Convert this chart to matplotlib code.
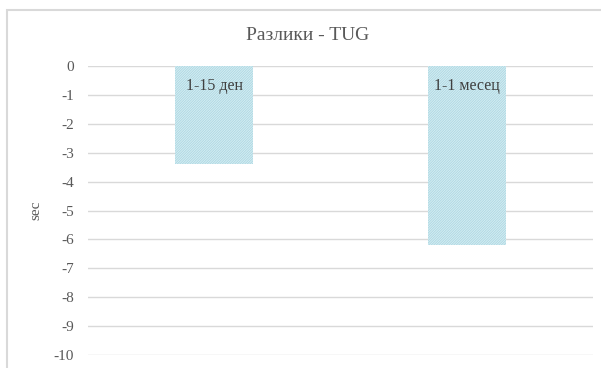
import matplotlib
matplotlib.use('Agg')
import matplotlib.pyplot as plt
from matplotlib.patches import Rectangle

plt.rcParams['font.family'] = ['Liberation Serif', 'DejaVu Serif']
plt.rcParams['hatch.linewidth'] = 0.45

categories = ['1-15 ден', '1-1 месец']
values = [-3.4, -6.2]
yticks = list(range(0, -11, -1))

W, H = 601, 368
fig = plt.figure(figsize=(W / 100, H / 100), dpi=100)
ax = fig.add_axes([88 / W, 1 - 355 / H, (593 - 88) / W, (355 - 66) / H])

x = list(range(len(categories)))
ax.bar(x, values, width=0.31, color='#8BC8D8', edgecolor='#F2FAFB',
       hatch='/' * 20, linewidth=0, zorder=2)
for xi, lab in zip(x, categories):
    ax.text(xi, -0.7, lab, ha='center', va='center', fontsize=11.5,
            color='#404040', zorder=3)

ax.set_xlim(-0.5, len(categories) - 0.5)
ax.set_ylim(-10, 0)
ax.set_yticks(yticks)
ax.set_yticklabels([str(t) for t in yticks])
ax.set_xticks([])
ax.tick_params(axis='y', length=0, pad=10, labelsize=11, labelcolor='#595959')
ax.grid(axis='y', color='#D9D9D9', linewidth=1, zorder=0)
for s in ax.spines.values():
    s.set_visible(False)

ax.set_ylabel('sec', fontsize=11, color='#595959', labelpad=8)
fig.text(308 / W, 1 - 35 / H, 'Разлики - TUG',
         ha='center', va='center', fontsize=14, color='#595959')

# chart border (cropped at right/bottom)
fig.patches.append(Rectangle((6.5 / W, -0.1), 1.2, 1 - 9.5 / H + 0.1,
                             transform=fig.transFigure, fill=False,
                             edgecolor='#D9D9D9', linewidth=1.5))

fig.savefig('out.png', dpi=100)
